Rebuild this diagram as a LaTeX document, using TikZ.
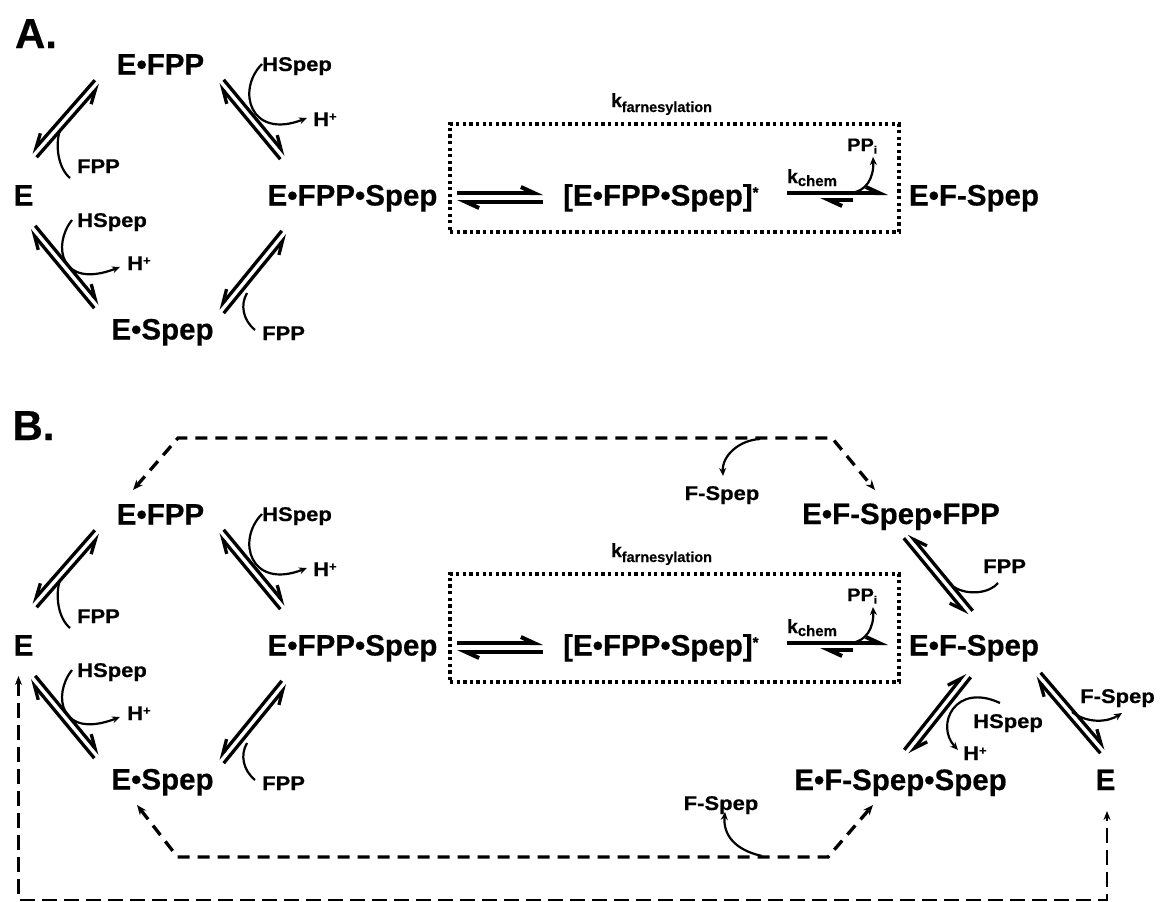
\documentclass[tikz,border=0pt]{standalone}
\usepackage{fontspec}
\setmainfont{Liberation Sans}[BoldFeatures={FakeBold=0.5}]
\usetikzlibrary{arrows.meta,calc}
\newcommand\vsq[1]{\scalebox{1}[0.9]{#1}}
\newcommand\hplus{\raisebox{6pt}{\fontsize{13}{13}\selectfont +}}
\newcommand\EqPairL[4][]{%
  \draw[eqline,#1,-harpL] ($(#3)!#2!90:(#4)$) -- ($(#4)!#2!-90:(#3)$);
  \draw[eqline,#1,-harpL] ($(#4)!#2!90:(#3)$) -- ($(#3)!#2!-90:(#4)$);}
\newcommand\EqPairR[4][]{%
  \draw[eqline,#1,-harpR] ($(#3)!#2!-90:(#4)$) -- ($(#4)!#2!90:(#3)$);
  \draw[eqline,#1,-harpR] ($(#4)!#2!-90:(#3)$) -- ($(#3)!#2!90:(#4)$);}
\tikzset{
  big/.style={font=\fontsize{29.5}{30}\selectfont\bfseries, inner sep=0pt, anchor=base},
  sml/.style={font=\fontsize{22}{22}\selectfont\bfseries, inner sep=0pt, anchor=base},
  ttl/.style={font=\fontsize{42}{42}\selectfont\bfseries, inner sep=0pt, anchor=base},
  kst/.style={font=\fontsize{19}{19}\selectfont\bfseries, inner sep=0pt, anchor=base west},
  eqline/.style={line width=3.3pt},
  eqh/.style={line width=4pt},
  harpL/.tip={Straight Barb[harpoon,length=13pt,width=12pt]},
  harpR/.tip={Straight Barb[harpoon,swap,length=13pt,width=12pt]},
  rxn/.style={line width=2.2pt, -{Stealth[length=8pt,width=7pt]}},
  rxnn/.style={line width=2.2pt},
  dasharr/.style={line width=3.3pt, dash pattern=on 12pt off 8pt,
    {Stealth[length=10pt,width=8pt]}-{Stealth[length=10pt,width=8pt]}},
  outerarr/.style={line width=2.2pt, dash pattern=on 15pt off 7pt,
    {Stealth[length=9pt,width=7pt]}-{Stealth[length=9pt,width=7pt]}},
  dotbox/.style={draw, line width=3.3pt, dash pattern=on 3.3pt off 3.3pt, inner sep=0pt}
}
\begin{document}
\begin{tikzpicture}[x=1pt,y=-1pt]
\path[use as bounding box, fill=white] (0,0) rectangle (1160,902);
\node[ttl] (labA) at (36,48) {A.};
\node[ttl] (labB) at (33.5,440) {B.};
\foreach \p/\dy in {a/0,b/450}{
\begin{scope}[yshift=-\dy pt]
  % species
  \node[big] (\p EFPP) at (160.5,74.5) {E•FPP};
  \node[big] (\p E) at (23.5,205.5) {E};
  \node[big] (\p EFPPS) at (352.5,205.5) {E•FPP•Spep};
  \node[big] (\p ES) at (162.5,339.5) {E•Spep};
  \node[big, anchor=base west] (\p TS) at (563,205.5) {[E•FPP•Spep]\raisebox{8pt}{\fontsize{15}{15}\selectfont *}};
  \node[big] (\p EFS) at (974,205.5) {E•F-Spep};
  % small labels
  \node[sml] (\p FPPa) at (98.5,173) {\vsq{FPP}};
  \node[sml, anchor=base west] (\p HSa) at (262,71) {\vsq{HSpep}};
  \node[sml, anchor=base west] (\p Ha) at (313,126) {\vsq{H\hplus}};
  \node[sml, anchor=base west] (\p HSb) at (77,227) {\vsq{HSpep}};
  \node[sml, anchor=base west] (\p Hb) at (127,270) {\vsq{H\hplus}};
  \node[sml, anchor=base west] (\p FPPb) at (262,340) {\vsq{FPP}};
  \node[sml, anchor=base west, font=\fontsize{20}{20}\selectfont\bfseries] (\p PP) at (847,151) {\vsq{PP\raisebox{-3pt}{\fontsize{12}{12}\selectfont i}}};
  \node[kst] (\p kf) at (611,107) {k\raisebox{-5pt}{\fontsize{14.5}{14.5}\selectfont farnesylation}};
  \node[kst] (\p kc) at (787,183) {k\raisebox{-3pt}{\fontsize{15}{15}\selectfont chem}};
  % box
  \node[dotbox, minimum width=449pt, minimum height=108pt] (\p box) at (674.5,178) {};
  % equilibrium pairs
  \coordinate (\p 1t) at (97.5,82.5);  \coordinate (\p 1b) at (34,155);
  \coordinate (\p 2t) at (221,82);     \coordinate (\p 2b) at (283,157);
  \coordinate (\p 3t) at (32.5,228);   \coordinate (\p 3b) at (97,306);
  \coordinate (\p 4t) at (284.5,233);  \coordinate (\p 4b) at (221,311);
  \coordinate (\p 5l) at (457,197.5);  \coordinate (\p 5r) at (543,197.5);
  \EqPairR{3.5pt}{\p 1t}{\p 1b}
  \EqPairL{3.5pt}{\p 2t}{\p 2b}
  \EqPairL{3.5pt}{\p 3t}{\p 3b}
  \EqPairR{3.5pt}{\p 4t}{\p 4b}
  \EqPairL[eqh]{4.5pt}{\p 5l}{\p 5r}
  % k_chem arrows
  \coordinate (\p 6l) at (787,193); \coordinate (\p 6r) at (888,193);
  \coordinate (\p 7r) at (853,200); \coordinate (\p 7l) at (820,200);
  \draw[eqh,-harpL] (\p 6l) -- (\p 6r);
  \draw[eqh,-harpL] (\p 7r) -- (\p 7l);
  % small curved arrows
  \coordinate (\p c1) at (70,178);  \coordinate (\p c1e) at (60,130);
  \draw[rxnn] (\p c1) .. controls (58,168) and (55,145) .. (\p c1e);
  \coordinate (\p c2) at (262,64);  \coordinate (\p c2e) at (307,118);
  \draw[rxn] (\p c2) .. controls (236,90) and (250,140) .. (\p c2e);
  \coordinate (\p c3) at (72,220);  \coordinate (\p c3e) at (120,267);
  \draw[rxn] (\p c3) .. controls (52,245) and (60,290) .. (\p c3e);
  \coordinate (\p c4) at (255,330); \coordinate (\p c4e) at (247,293);
  \draw[rxnn] (\p c4) .. controls (243,320) and (240,305) .. (\p c4e);
  \coordinate (\p c5) at (850,193); \coordinate (\p c5e) at (873,157);
  \draw[rxn] (\p c5) .. controls (866,192) and (874,178) .. (\p c5e);
\end{scope}}
% ---- Part B extra species
\node[big] (bEFSF) at (901,524) {E•F-Spep•FPP};
\node[big] (bEFSS) at (900.5,790) {E•F-Spep•Spep};
\node[big] (bE2) at (1105.5,790) {E};
\node[sml] (bFS1) at (722,500) {\vsq{F-Spep}};
\node[sml] (bFS2) at (721,810) {\vsq{F-Spep}};
\node[sml, anchor=base west] (bFPP3) at (983,573) {\vsq{FPP}};
\node[sml, anchor=base west] (bHS3) at (973,728) {\vsq{HSpep}};
\node[sml, anchor=base west] (bH3) at (963,760) {\vsq{H\hplus}};
\node[sml, anchor=base west] (bFS3) at (1080,703) {\vsq{F-Spep}};
% pairs on the right
\coordinate (p5t) at (906.5,536); \coordinate (p5b) at (970,613);
\coordinate (p6t) at (968,675);   \coordinate (p6b) at (907,752);
\coordinate (p7t) at (1038,675);  \coordinate (p7b) at (1103,751);
\EqPairR{3.5pt}{p5t}{p5b}
\EqPairL{3.5pt}{p6t}{p6b}
\EqPairL{3.5pt}{p7t}{p7b}
% curved arrows on the right
\coordinate (d1) at (760,439);  \coordinate (d1e) at (723,476);
\draw[rxn] (d1) .. controls (740,440) and (722,455) .. (d1e);
\coordinate (d2) at (998,583);  \coordinate (d2e) at (954,587);
\draw[rxnn] (d2) .. controls (990,593) and (968,596) .. (d2e);
\coordinate (d3) at (1000,703); \coordinate (d3e) at (958,750);
\draw[rxn] (d3) .. controls (955,682) and (935,725) .. (d3e);
\coordinate (d4) at (1072,712); \coordinate (d4e) at (1122,713);
\draw[rxn] (d4) .. controls (1088,724) and (1108,722) .. (d4e);
\coordinate (d5) at (762,856);  \coordinate (d5e) at (725,812);
\draw[rxn] (d5) .. controls (735,850) and (723,835) .. (d5e);
% dashed routes
\coordinate (tTL) at (133,490); \coordinate (cTL) at (178,438);
\coordinate (cTR) at (832,438); \coordinate (tTR) at (875,490);
\draw[dasharr] (tTL) -- (cTL) -- (cTR) -- (tTR);
\coordinate (tBL) at (137,805); \coordinate (cBL) at (177.5,857);
\coordinate (cBR) at (828,857); \coordinate (tBR) at (873,805);
\draw[dasharr] (tBL) -- (cBL) -- (cBR) -- (tBR);
\coordinate (tOL) at (18.5,676); \coordinate (cOL) at (18.5,900);
\coordinate (cOR) at (1107,900); \coordinate (tOR) at (1107,811);
\draw[outerarr] (tOL) -- (cOL) -- (cOR) -- (tOR);
\end{tikzpicture}
\end{document}
